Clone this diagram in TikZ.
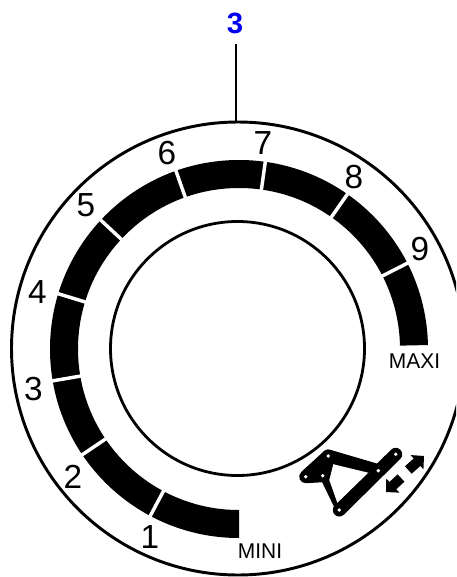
\documentclass[tikz,border=0pt]{standalone}
\usepackage{fontspec}
\setmainfont{Liberation Sans}
\usetikzlibrary{arrows.meta}
\begin{document}
\begin{tikzpicture}[x=0.75pt,y=-0.75pt,
  digit/.style={font=\fontsize{25}{25}\selectfont,inner sep=0pt},
  tag/.style={font=\fontsize{16}{16}\selectfont,inner sep=0pt,xscale=0.98},
  sep/.style={white,line width=2.6pt},
  linkbar/.style={line width=9.75pt,line cap=round,line join=round},
  thinbar/.style={line width=5pt,line join=round,fill=black},
  hole/.style={fill=white,draw=none},
  dirarrow/.style={line width=7.5pt,-{Triangle[length=7pt,width=14pt]}}]
\useasboundingbox (0,0) rectangle (456,577);
\clip (0,0) rectangle (456,577);
\fill[white] (0,0) rectangle (456,577);
% dial circles
\draw[line width=2.2pt] (238,348.5) circle [radius=226.5];
\draw[line width=2.1pt] (237.5,348.5) circle [radius=127];
% band
\begin{scope}[shift={(239,349)},y=0.75pt]
  \fill[black] (-90:189) arc [start angle=-90,end angle=-358.8,radius=189]
    -- (-358.8:161) arc [start angle=-358.8,end angle=-90,radius=161] -- cycle;
  \foreach \a in {27,55,82,109.5,137,163,189.7,214,242}
    \draw[sep] (\a:157) -- (\a:193);
\end{scope}
% scale labels
\node[digit] (d1) at (150,537) {1};
\node[digit] (d2) at (73,477) {2};
\node[digit] (d3) at (33.5,389.5) {3};
\node[digit] (d4) at (37.5,292) {4};
\node[digit] (d5) at (86,205) {5};
\node[digit] (d6) at (167,153) {6};
\node[digit] (d7) at (263,143) {7};
\node[digit] (d8) at (354,177) {8};
\node[digit] (d9) at (420,249) {9};
\node[tag] (mini) at (260,551) {MINI};
\node[tag] (maxi) at (414.5,361.5) {MAXI};
% callout
\node[font=\fontsize{22}{22}\selectfont\bfseries,text={rgb,255:red,0;green,0;blue,240},inner sep=0pt] (callout) at (235,23) {3};
\coordinate (rim) at (236,122);
\draw[line width=1pt] (236,44) -- (rim);
% mechanism
\coordinate (pA) at (328.3,456);
\coordinate (pB) at (305.7,476.7);
\coordinate (pC) at (322.7,475.7);
\coordinate (pD) at (339.3,510);
\coordinate (pE) at (378.3,470.7);
\coordinate (pF) at (395.7,454.3);
\coordinate (w1) at (333.3,464.3);
\coordinate (w2) at (368.3,472.7);
\coordinate (w3) at (337.3,502.7);
\coordinate (w4) at (329.3,480);
\draw[linkbar] (pD) -- (pF);
\draw[linkbar] (pA) -- (pE);
\draw[linkbar,fill=black] (pB) -- (pA) -- (pC) -- cycle;
\draw[thinbar] (pA) -- (pC) -- (pD) -- cycle;
\fill[white] (w1) -- (w2) -- (w3) -- (w4) -- cycle;
\foreach \p in {pA,pB,pC,pD,pE,pF}
  \fill[hole] (\p) circle [radius=1.9];
\coordinate (a1s) at (401,478);
\coordinate (a1e) at (386,492);
\coordinate (a2s) at (408.3,470);
\coordinate (a2e) at (424,456);
\draw[dirarrow] (a1s) -- (a1e);
\draw[dirarrow] (a2s) -- (a2e);
\end{tikzpicture}
\end{document}
